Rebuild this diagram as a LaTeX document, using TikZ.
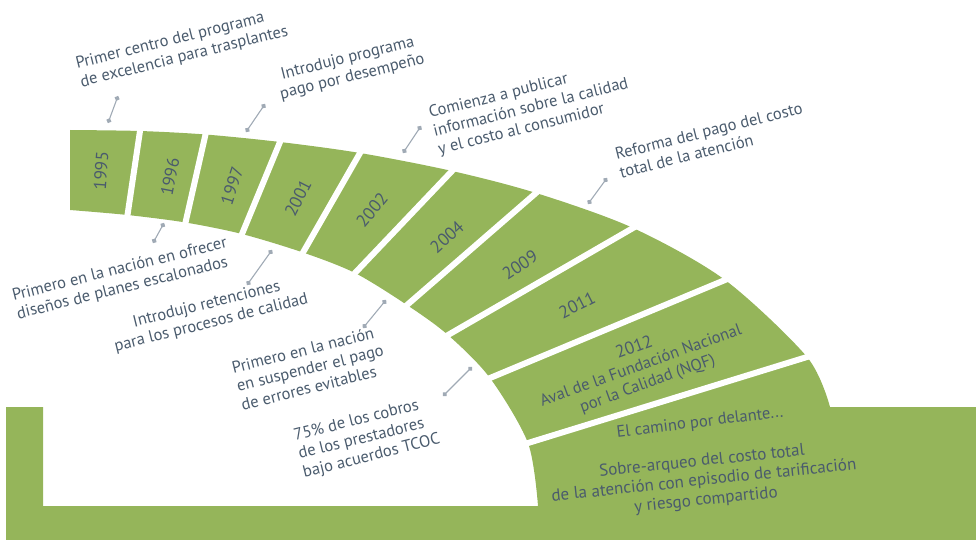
\documentclass[tikz,border=0pt]{standalone}
\usepackage{fontspec}
\setmainfont{PT Sans}
\usetikzlibrary{arrows.meta}
\definecolor{v}{RGB}{149,181,90}
\definecolor{a}{RGB}{74,91,109}
\definecolor{s}{RGB}{160,170,181}
\tikzstyle{banda}=[fill=v]
\tikzstyle{corte}=[draw=white,line width=6pt,shorten <=-4pt,shorten >=-4pt]
\tikzstyle{guia}=[draw=s,line width=1.1pt,{Circle[length=5pt]}-{Circle[length=5pt]}]
\tikzstyle{nota}=[text=a,font=\fontsize{16.5}{19}\selectfont,rotate=14,inner sep=0pt]
\tikzstyle{anio}=[text=a,font=\fontsize{17.5}{20}\selectfont,inner sep=0pt,align=center]

\begin{document}
\begin{tikzpicture}[x=1pt,y=-1pt]
	\useasboundingbox (0,0) rectangle (976,540);
	% borde exterior del arco
	\coordinate (o0) at (70,130);
	\coordinate (o1) at (140,131);
	\coordinate (o2) at (205.5,134.5);
	\coordinate (o3) at (280,142);
	\coordinate (o4) at (360,153);
	\coordinate (o5) at (452,171);
	\coordinate (o6) at (536,193);
	\coordinate (o7) at (633,228);
	\coordinate (o8) at (725,280);
	\coordinate (o9) at (807,357);
	\coordinate (o10) at (830,407);
	% borde interior del arco
	\coordinate (i0) at (70,210);
	\coordinate (i1) at (127.5,215);
	\coordinate (i2) at (185.5,222.5);
	\coordinate (i3) at (242,234);
	\coordinate (i4) at (303,252.5);
	\coordinate (i5) at (355,273);
	\coordinate (i6) at (407,305);
	\coordinate (i7) at (448,335);
	\coordinate (i8) at (490,378);
	\coordinate (i9) at (528,443);
	\coordinate (i10) at (538,506);
	\fill[banda] plot[smooth] coordinates {(o0) (o1) (o2) (o3) (o4) (o5) (o6) (o7) (o8) (o9) (o10)}
		-- (976,407) -- (976,540) -- (6,540) -- (6,407) -- (43,407) -- (43,506)
		-- plot[smooth] coordinates {(i10) (i9) (i8) (i7) (i6) (i5) (i4) (i3) (i2) (i1) (i0)} -- cycle;
	\foreach \k in {1,...,9}
		\draw[corte] (i\k) -- (o\k);

	\node[anio,rotate=86] (y1995) at (101,171) {1995};
	\node[anio,rotate=79] (y1996) at (170,177) {1996};
	\node[anio,rotate=72] (y1997) at (232,186) {1997};
	\node[anio,rotate=63] (y2001) at (298,198) {2001};
	\node[anio,rotate=50] (y2002) at (372,210) {2002};
	\node[anio,rotate=42] (y2004) at (447,237) {2004};
	\node[anio,rotate=34] (y2009) at (520,265) {2009};
	\node[anio,rotate=27] (y2011) at (577,305) {2011};
	\node[anio,rotate=20,font=\fontsize{16.5}{19}\selectfont] (y2012) at (641,366) {{\fontsize{17.5}{20}\selectfont 2012}\\Aval de la Fundación Nacional\\por la Calidad (NQF)};
	\node[anio,rotate=7,font=\fontsize{16.5}{19}\selectfont] (camino) at (700,423) {El camino por delante...};
	\node[anio,rotate=6,font=\fontsize{17}{19.5}\selectfont] (sobre) at (704,481) {Sobre-arqueo del costo total\\de la atención con episodio de tarificación\\y riesgo compartido};

	\node[nota,align=left] (trasplantes) at (182,48) {Primer centro del programa\\de excelencia para trasplantes};
	\node[nota,align=center] (desempeno) at (350,68) {Introdujo programa\\pago por desempeño};
	\node[nota,align=left] (publicar) at (531,108) {Comienza a publicar\\información sobre la calidad\\y el costo al consumidor};
	\node[nota,align=left] (reforma) at (711,140) {Reforma del pago del costo\\total de la atención};
	\node[nota,align=left] (planes) at (122,279) {Primero en la nación en ofrecer\\diseños de planes escalonados};
	\node[nota,align=center] (retenciones) at (209,314) {Introdujo retenciones\\para los procesos de calidad};
	\node[nota,align=left] (errores) at (310,368) {Primero en la nación\\en suspender el pago\\de errores evitables};
	\node[nota,align=left] (cobros) at (367,438) {75\% de los cobros\\de los prestadores\\bajo acuerdos TCOC};

	% guias de las notas
	\coordinate (g1a) at (118,96);	\coordinate (g1b) at (108,123);
	\coordinate (g2a) at (265,104);	\coordinate (g2b) at (246,132);
	\coordinate (g3a) at (421,126);	\coordinate (g3b) at (403,153);
	\coordinate (g4a) at (607,178);	\coordinate (g4b) at (588,204);
	\coordinate (g5a) at (164,223);	\coordinate (g5b) at (153,243);
	\coordinate (g6a) at (272,250);	\coordinate (g6b) at (247,285);
	\coordinate (g7a) at (386,300);	\coordinate (g7b) at (363,328);
	\coordinate (g8a) at (472,367);	\coordinate (g8b) at (443,396);
	\foreach \k in {1,...,8}
		\draw[guia] (g\k a) -- (g\k b);
\end{tikzpicture}
\end{document}
